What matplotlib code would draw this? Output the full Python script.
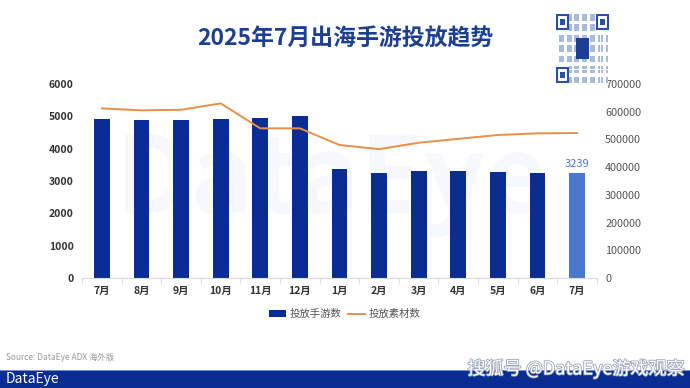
import matplotlib
matplotlib.use("Agg")
import matplotlib.pyplot as plt
import matplotlib.patheffects as pe
import numpy as np

plt.rcParams['font.family'] = ['Noto Sans CJK SC', 'DejaVu Sans']

months = ["7月", "8月", "9月", "10月", "11月", "12月", "1月", "2月", "3月", "4月", "5月", "6月", "7月"]
games = [4920, 4900, 4900, 4930, 4960, 5010, 3380, 3260, 3300, 3320, 3290, 3250, 3239]
materials = [612000, 605000, 607000, 630000, 540000, 540000, 480000, 465000, 488000, 502000, 516000, 522000, 523000]

navy = "#0a2d94"
light = "#4a78cc"
orange = "#e8904a"

fig = plt.figure(figsize=(6.9, 3.88), dpi=100)
fig.patch.set_facecolor("white")

ax = fig.add_axes([0.119, 0.2835, 0.746, 0.5])
ax2 = ax.twinx()

x = np.arange(len(months))
colors = [navy] * (len(months) - 1) + [light]
bars = ax.bar(x, games, width=0.4, color=colors, zorder=2, label="投放手游数")
ax.text(x[-1], games[-1] + 120, str(games[-1]), ha="center", va="bottom",
        fontsize=8, color=light)
line, = ax2.plot(x, materials, color=orange, lw=1.4, label="投放素材数")

ax.set_xlim(-0.5, len(months) - 0.5)
ax.set_ylim(0, 6000)
ax2.set_ylim(0, 700000)
ax.set_yticks(range(0, 6001, 1000))
ax2.set_yticks(range(0, 700001, 100000))
ax.set_xticks(x)
ax.set_xticklabels(months)
ax.set_xticks(np.arange(-0.5, len(months), 1), minor=True)

for a in (ax, ax2):
    for s in ("top", "left", "right"):
        a.spines[s].set_visible(False)
ax2.spines["bottom"].set_visible(False)
ax.spines["bottom"].set_color("#d9d9d9")

ax.tick_params(axis="y", length=0, labelsize=7.5, labelcolor="#333333", pad=6)
for t in ax.get_yticklabels():
    t.set_fontweight("bold")
ax.tick_params(axis="x", which="major", length=0, labelsize=7.5, labelcolor="#333333", pad=6)
ax.tick_params(axis="x", which="minor", length=4, color="#d9d9d9")
for t in ax.get_xticklabels():
    t.set_fontweight("bold")
ax2.tick_params(axis="y", length=0, labelsize=7.8, labelcolor="#555555", pad=6)

ax.set_zorder(ax2.get_zorder() - 1)
ax.patch.set_visible(False)

# faint background watermark
fig.text(0.48, 0.53, "DataEye", fontsize=76, color="#f5f8fc", ha="center", va="center",
         fontweight="bold", zorder=-10)

fig.legend([bars, line], ["投放手游数", "投放素材数"], loc="center", bbox_to_anchor=(0.5, 0.19),
           ncol=2, frameon=False, fontsize=7.5, handlelength=1.6, handletextpad=0.4,
           columnspacing=0.6, labelcolor="#555555")

fig.text(0.5, 0.9, "2025年7月出海手游投放趋势", ha="center", va="center",
         fontsize=16.5, fontweight="bold", color="#1c3f94")

# qr placeholder
qr = fig.add_axes([0.806, 0.785, 0.076, 0.18])
qr.set_xlim(0, 20)
qr.set_ylim(0, 20)
qr.axis("off")
gx, gy = np.meshgrid(np.arange(20), np.arange(20))
mask = ((gx * 7 + gy * 3 + gx * gy) % 3 != 0)
for i, j in zip(gx[mask], gy[mask]):
    if (i < 5 and j > 14) or (i > 14 and j > 14) or (i < 5 and j < 5):
        continue
    qr.add_patch(plt.Rectangle((i, j), 0.9, 0.9, fc="#a9bade"))
for (cx, cy) in [(0, 15.2), (15.2, 15.2), (0, 0)]:
    qr.add_patch(plt.Rectangle((cx + 0.4, cy + 0.4), 4, 4, fc="white", ec="#2a4fa8", lw=1.5))
    qr.add_patch(plt.Rectangle((cx + 1.5, cy + 1.5), 1.8, 1.8, fc="#2a4fa8"))
qr.add_patch(plt.Rectangle((7.5, 7.0), 5, 6, fc="#1c3f94"))

fig.text(0.008, 0.08, "Source: DataEye ADX 海外版", fontsize=6, color="#999999", va="center")

band = fig.add_axes([0, 0, 1, 0.046])
band.axis("off")
band.add_patch(plt.Rectangle((0, 0), 1, 1, fc="#0a2d94", transform=band.transAxes))
band.add_patch(plt.Rectangle((0, 0.93), 1, 0.07, fc="#6f8fd6", transform=band.transAxes))
fig.text(0.008, 0.022, "DataEye", fontsize=10, color="white", va="center")
fig.text(0.992, 0.05, "搜狐号 @DataEye游戏观察", fontsize=13, color="white", ha="right", va="center",
         path_effects=[pe.withStroke(linewidth=1.2, foreground="#9aa4b8")])

fig.savefig("out.png", dpi=100, facecolor="white")
